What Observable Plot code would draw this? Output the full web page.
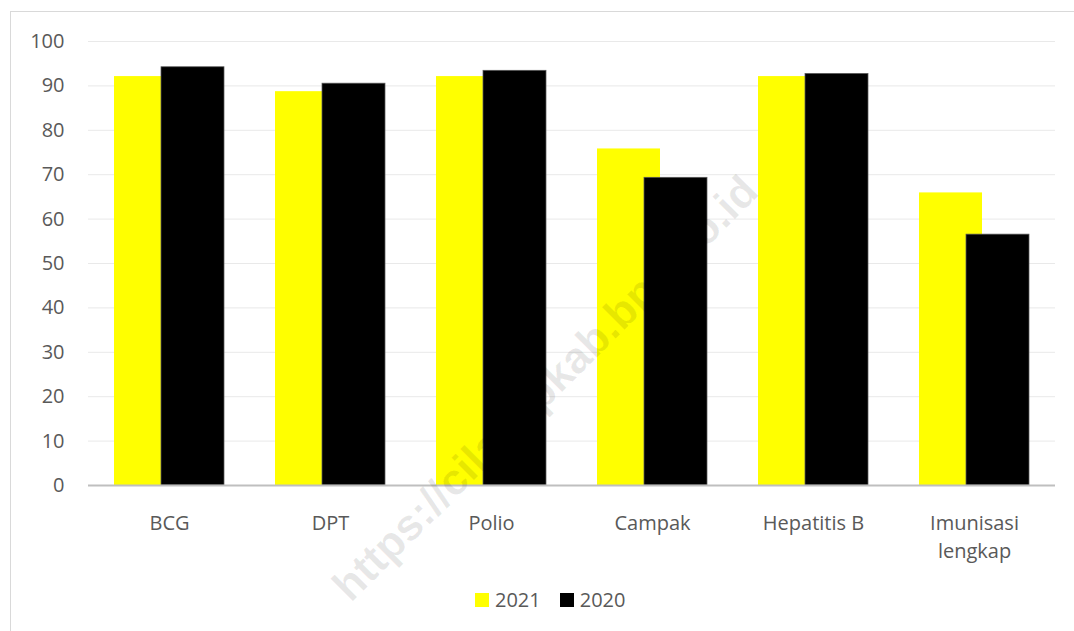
<!DOCTYPE html>
<html>
<head>
<meta charset="utf-8">
<script src="https://cdn.jsdelivr.net/npm/d3@7"></script>
<script src="https://cdn.jsdelivr.net/npm/@observablehq/plot@0.6"></script>
<style>
  html, body { margin: 0; padding: 0; background: #fff; }
  #wrap { position: relative; width: 1074px; height: 631px; overflow: hidden; background: #fff; font-family: "Open Sans", sans-serif; }
  #frame { position: absolute; left: 10px; top: 11px; width: 1200px; height: 800px; border: 1px solid #d9d9d9; box-sizing: border-box; }
  #chart { position: absolute; left: 0; top: 0; }
  #legend { position: absolute; left: 475px; top: 586px; display: flex; align-items: center; font-size: 20px; color: #595959; white-space: nowrap; }
  .sw { display: inline-block; width: 14px; height: 14px; margin-right: 6px; }
  .item { display: flex; align-items: center; margin-right: 19px; }
  #wm { position: absolute; left: 545px; top: 388px; transform: translate(-50%, -50%) rotate(-45deg); font-family: "Liberation Sans", Arial, sans-serif; font-weight: bold; font-size: 44px; line-height: 1; color: rgba(0,0,0,0.09); white-space: nowrap; pointer-events: none; }
</style>
</head>
<body>
<div id="wrap">
  <div id="frame"></div>
  <div id="chart"></div>
  <div id="legend"></div>
  <div id="wm">https://cilacapkab.bps.go.id</div>
</div>
<script>
const categories = ["BCG", "DPT", "Polio", "Campak", "Hepatitis B", "Imunisasi lengkap"];
const values2021 = [92.1, 88.7, 92.1, 75.8, 92.1, 65.9];
const values2020 = [94.2, 90.5, 93.4, 69.3, 92.7, 56.5];
const seriesNames = ["2021", "2020"];
const seriesColors = ["#ffff00", "#000000"];
const yTicks = [0, 10, 20, 30, 40, 50, 60, 70, 80, 90, 100];

const data2021 = categories.map((c, i) => ({category: c, value: values2021[i]}));
const data2020 = categories.map((c, i) => ({category: c, value: values2020[i]}));

const chart = Plot.plot({
  width: 1074,
  height: 570,
  marginLeft: 88,
  marginRight: 19,
  marginTop: 41,
  marginBottom: 85,
  style: {fontFamily: "Open Sans, sans-serif", fontSize: "20px", color: "#595959", background: "transparent", overflow: "visible"},
  x: {domain: categories, paddingInner: 0.318, paddingOuter: 0.159},
  y: {domain: [0, 100]},
  marks: [
    Plot.gridY(yTicks, {stroke: "#e9e9e9", strokeOpacity: 1, strokeWidth: 1}),
    Plot.axisY(yTicks, {tickSize: 0, tickPadding: 24, fill: "#595959", fontSize: 20, label: null}),
    Plot.axisX({tickSize: 0, tickPadding: 25, fill: "#595959", fontSize: 20, lineHeight: 1.4, label: null,
      tickFormat: d => d.replace(" lengkap", "\nlengkap")}),
    Plot.barY(data2021, {x: "category", y: "value", fill: seriesColors[0], insetRight: 47}),
    Plot.barY(data2020, {x: "category", y: "value", fill: seriesColors[1], stroke: "#5a5a5a", strokeWidth: 0.75, insetLeft: 47}),
    Plot.ruleY([0], {stroke: "#bfbfbf", strokeWidth: 2})
  ]
});
document.getElementById("chart").appendChild(chart);

const legend = document.getElementById("legend");
seriesNames.forEach((name, i) => {
  const item = document.createElement("span");
  item.className = "item";
  const sw = document.createElement("span");
  sw.className = "sw";
  sw.style.background = seriesColors[i];
  item.appendChild(sw);
  item.appendChild(document.createTextNode(name));
  legend.appendChild(item);
});
</script>
</body>
</html>
